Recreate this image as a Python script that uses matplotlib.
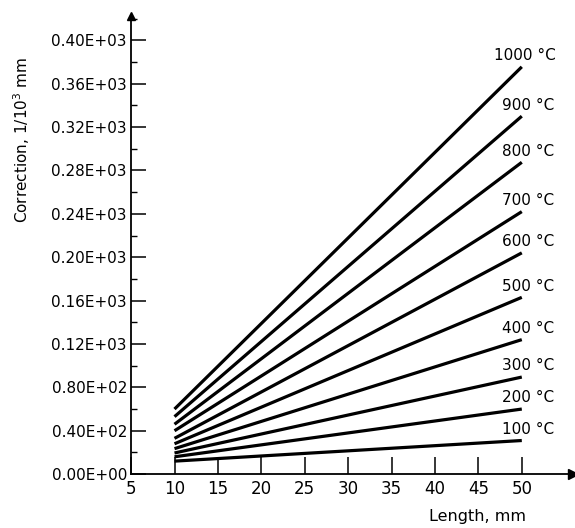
import numpy as np
import matplotlib.pyplot as plt
from matplotlib.ticker import MultipleLocator

# Lengths where every line starts and ends (mm)
lengths = [10, 50]

# Temperature of each line
temps = [100, 200, 300, 400, 500, 600, 700, 800, 900, 1000]

# Correction (1/10^3 mm) at 10 mm and at 50 mm
corr_at_10 = [12, 16, 19.5, 23.5, 28, 33, 40, 46, 53, 60]
corr_at_50 = [31, 60, 89.5, 124, 163, 204, 242, 287.5, 330, 375.5]

# Y tick labels as printed on the chart
ytick_vals = [0, 40, 80, 120, 160, 200, 240, 280, 320, 360, 400]
ytick_text = ['0.00E+00', '0.40E+02', '0.80E+02', '0.12E+03', '0.16E+03',
              '0.20E+03', '0.24E+03', '0.28E+03', '0.32E+03', '0.36E+03',
              '0.40E+03']
xtick_vals = [5, 10, 15, 20, 25, 30, 35, 40, 45, 50]

fig = plt.figure(figsize=(5.75, 5.28), dpi=100)
ax = fig.add_axes([0.228, 0.102, 0.768, 0.868])

for t, c0, c1 in zip(temps, corr_at_10, corr_at_50):
    ax.plot(lengths, [c0, c1], color='black', lw=2.3, solid_capstyle='butt')
    ax.annotate(f'{t} °C', xy=(lengths[-1], c1), xytext=(-20 if t == 1000 else -14, 8),
                textcoords='offset points', ha='left', va='center', fontsize=11)

xmax = 5 + (573 - 131) / 8.69
ymax = 422.5
ax.set_xlim(5, xmax)
ax.set_ylim(0, ymax)

for side in ['top', 'right']:
    ax.spines[side].set_visible(False)
for side in ['left', 'bottom']:
    ax.spines[side].set_linewidth(1.3)

# arrow heads on the axes
ax.plot([xmax], [0], marker='>', color='black', ms=7, clip_on=False)
ax.plot([5], [ymax], marker='^', color='black', ms=6, clip_on=False)

ax.set_xticks(xtick_vals)
ax.set_yticks(ytick_vals)
ax.set_yticklabels(ytick_text)
ax.yaxis.set_minor_locator(MultipleLocator(20))
ax.tick_params(axis='y', which='major', direction='in', length=11, width=1.1,
               pad=3, labelsize=11)
ax.tick_params(axis='y', which='minor', direction='in', length=4, width=1.0)
ax.tick_params(axis='x', which='major', direction='in', length=12, width=1.1,
               pad=4, labelsize=12)

fig.text(0.037, 1 - 140 / 528, 'Correction, 1/10$^3$ mm', rotation=90,
         ha='center', va='center', fontsize=11)
fig.text(477 / 575, 1 - 517 / 528, 'Length, mm', ha='center', va='center',
         fontsize=11.5)

plt.savefig('out.png', dpi=100)
